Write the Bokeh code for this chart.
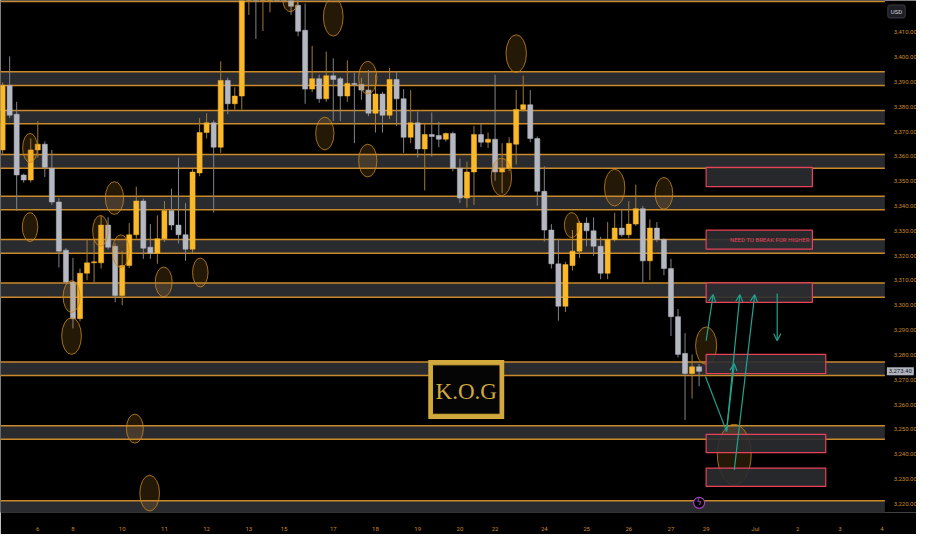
#! /usr/bin/python3

import bokeh.plotting as bkh
from bokeh.models import ColumnDataSource, Range1d, FixedTicker, NumeralTickFormatter, Label, Arrow, OpenHead, LinearAxis
from bokeh.core.properties import value
from bokeh.embed import file_html
from bokeh.resources import INLINE

# XAUUSD 4H candles (6 Jun -> 27 Jun)
opens = [3362.6, 3388.6, 3377.0, 3352.5, 3350.5, 3362.6, 3364.9, 3355.2, 3341.6, 3322.2,
	3309.4, 3294.6, 3312.9, 3317.1, 3317.1, 3332.3, 3323.8, 3303.9, 3316.0, 3328.4,
	3342.0, 3323.4, 3321.0, 3326.8, 3338.1, 3332.3, 3328.4, 3322.6, 3353.3, 3369.6,
	3373.5, 3363.7, 3390.6, 3381.2, 3384.3, 3432.0, 3438.0, 3430.0, 3434.0, 3440.0,
	3444.0, 3424.7, 3420.9, 3410.8, 3387.1, 3391.3, 3383.2, 3392.5, 3391.3, 3384.3,
	3389.4, 3389.0, 3386.7, 3377.4, 3385.1, 3376.6, 3391.0, 3383.2, 3367.7, 3373.5,
	3363.0, 3368.8, 3368.4, 3366.9, 3369.2, 3355.2, 3343.2, 3353.7, 3368.8, 3365.7,
	3366.9, 3353.7, 3355.2, 3364.9, 3378.9, 3380.8, 3367.2, 3345.9, 3330.3, 3316.7,
	3299.6, 3316.0, 3321.8, 3333.1, 3330.0, 3323.8, 3312.9, 3326.5, 3331.1, 3328.4,
	3332.7, 3338.9, 3317.9, 3331.1, 3326.5, 3314.8, 3295.4, 3280.6, 3272.5, 3275.2]
highs = [3389.8, 3400.3, 3382.0, 3353.0, 3367.2, 3374.2, 3366.0, 3362.6, 3343.2, 3323.0,
	3319.1, 3314.8, 3326.8, 3326.8, 3336.2, 3335.4, 3325.0, 3321.8, 3333.1, 3347.8,
	3343.0, 3332.7, 3336.2, 3342.0, 3347.0, 3359.5, 3341.2, 3354.8, 3375.4, 3377.4,
	3374.5, 3398.3, 3391.7, 3387.8, 3440.0, 3446.0, 3444.0, 3440.0, 3446.0, 3448.0,
	3451.0, 3440.0, 3424.0, 3421.6, 3404.5, 3392.9, 3402.2, 3399.5, 3392.0, 3398.7,
	3393.7, 3391.7, 3394.8, 3393.0, 3386.0, 3395.6, 3394.4, 3387.1, 3386.7, 3378.1,
	3373.1, 3377.7, 3373.9, 3369.6, 3370.0, 3359.1, 3357.9, 3372.3, 3373.1, 3369.6,
	3392.9, 3365.3, 3367.7, 3386.7, 3392.5, 3386.7, 3368.0, 3356.0, 3332.7, 3326.8,
	3317.5, 3330.3, 3334.0, 3335.4, 3335.4, 3327.6, 3333.5, 3337.3, 3338.5, 3342.0,
	3348.6, 3340.0, 3334.6, 3333.5, 3327.0, 3318.7, 3298.5, 3288.8, 3280.2, 3276.4]
lows = [3360.6, 3375.4, 3338.1, 3349.4, 3349.5, 3359.5, 3351.7, 3340.4, 3315.2, 3308.5,
	3290.7, 3293.5, 3310.1, 3309.0, 3314.8, 3322.5, 3301.2, 3300.0, 3315.0, 3326.8,
	3318.7, 3318.7, 3316.7, 3325.5, 3330.3, 3324.9, 3317.9, 3321.0, 3352.0, 3367.2,
	3337.3, 3361.4, 3377.0, 3378.9, 3378.9, 3417.0, 3407.3, 3410.5, 3418.0, 3426.0,
	3424.0, 3417.0, 3408.4, 3381.2, 3385.9, 3381.6, 3382.0, 3374.2, 3374.2, 3382.0,
	3365.3, 3382.8, 3376.2, 3369.6, 3369.6, 3375.0, 3372.3, 3361.4, 3365.3, 3359.5,
	3346.3, 3359.9, 3363.7, 3366.0, 3354.0, 3341.2, 3339.3, 3340.4, 3363.7, 3363.4,
	3350.2, 3345.1, 3354.0, 3356.8, 3378.0, 3365.7, 3340.1, 3325.7, 3314.8, 3293.8,
	3297.3, 3314.0, 3319.1, 3323.8, 3319.9, 3310.5, 3310.5, 3325.7, 3327.6, 3327.0,
	3332.0, 3309.0, 3310.1, 3325.5, 3312.1, 3287.6, 3279.0, 3253.8, 3262.4, 3267.4]
closes = [3388.6, 3376.6, 3352.5, 3350.5, 3362.6, 3364.9, 3355.6, 3341.6, 3321.8, 3309.4,
	3294.6, 3312.9, 3317.1, 3317.5, 3332.3, 3323.4, 3303.9, 3316.0, 3328.4, 3342.0,
	3323.0, 3321.0, 3326.8, 3338.1, 3332.3, 3328.4, 3322.6, 3353.7, 3369.6, 3373.5,
	3363.7, 3390.6, 3381.2, 3384.3, 3432.0, 3438.0, 3430.0, 3434.0, 3440.0, 3432.0,
	3426.0, 3420.5, 3410.4, 3387.1, 3391.3, 3383.2, 3392.5, 3391.0, 3384.3, 3389.4,
	3389.0, 3386.7, 3377.4, 3385.1, 3376.6, 3391.0, 3383.2, 3367.7, 3373.5, 3363.0,
	3368.8, 3368.0, 3366.9, 3369.2, 3355.2, 3343.2, 3353.7, 3368.8, 3365.7, 3366.9,
	3353.7, 3355.2, 3365.3, 3378.9, 3380.8, 3367.2, 3345.9, 3330.3, 3316.7, 3299.6,
	3316.4, 3321.8, 3333.1, 3330.0, 3323.8, 3312.9, 3326.5, 3331.1, 3328.4, 3332.7,
	3338.9, 3317.9, 3331.1, 3326.5, 3314.8, 3295.4, 3280.2, 3272.5, 3275.2, 3273.4]

# time axis: candle index of the first bar of each labelled day
day_ticks = [5, 10, 17, 23, 29, 35, 40, 47, 53, 59, 65, 70, 77, 83, 89, 95, 100, 107, 113, 119, 125]
day_labels = ['6', '8', '10', '11', '12', '13', '15', '17', '18', '19', '20', '22', '24', '25', '26', '27', '29', 'Jul', '2', '3', '4']

# price scale
price_ticks = [3220, 3230, 3240, 3250, 3260, 3270, 3280, 3290, 3300, 3310,
	3320, 3330, 3340, 3350, 3360, 3370, 3380, 3390, 3400, 3410]
last_price = 3273.40

# horizontal zones (price)
zone_low = [3215.7, 3246.0, 3271.7, 3303.2, 3321.0, 3338.5, 3355.2, 3373.1, 3388.6, 3422.4]
zone_high = [3221.2, 3251.5, 3277.1, 3309.0, 3326.5, 3343.9, 3360.7, 3378.5, 3394.1, 3428.0]

# highlighted swing points
circle_x = [3.9, 3.9, 15.9, 13.9, 16.8, 22.9, 9.8, 9.8, 28.1, 18.8, 20.9, 40.9,
	47.0, 45.8, 51.9, 51.9, 73.0, 70.9, 80.9, 87.0, 94.0, 100.0, 104.0]
circle_y = [3363.4, 3331.5, 3343.2, 3330.0, 3321.8, 3309.4, 3303.5, 3287.6, 3313.2, 3250.3, 3224.3, 3422.8,
	3416.2, 3369.2, 3391.7, 3358.3, 3401.4, 3351.7, 3332.3, 3347.4, 3345.1, 3283.7, 3239.8]
circle_w = [2.1, 2.2, 2.6, 2.2, 2.4, 2.4, 2.4, 2.8, 2.2, 2.4, 2.8, 2.1,
	2.8, 2.6, 2.6, 2.6, 2.9, 2.9, 2.1, 2.9, 2.5, 3.0, 4.8]
circle_h = [11.7, 11.7, 13.2, 12.4, 13.2, 12.0, 12.8, 14.8, 11.7, 11.7, 14.4, 9.0,
	15.5, 13.2, 13.2, 13.2, 15.2, 15.2, 10.1, 14.8, 12.8, 15.2, 24.5]

# projected boxes
box_left = [100.0, 100.0, 100.0, 100.0, 100.0, 100.0]
box_right = [115.1, 115.1, 115.1, 117.0, 117.0, 117.0]
box_bottom = [3347.8, 3322.6, 3301.2, 3272.5, 3240.6, 3227.0]
box_top = [3355.6, 3330.3, 3309.0, 3280.2, 3248.0, 3234.4]

# projected path (x0, y0, x1, y1, has head)
path_x0 = [100.0, 99.9, 102.9, 102.9, 104.0, 110.1]
path_y0 = [3285.7, 3271.3, 3249.2, 3249.2, 3233.7, 3304.7]
path_x1 = [101.0, 102.9, 104.0, 104.8, 106.9, 110.1]
path_y1 = [3304.3, 3249.2, 3276.5, 3304.3, 3304.3, 3285.7]
path_head = [True, False, True, True, True, True]

bull = '#fbb829'
bear = '#b5b8c0'
zone_line = '#c98a2c'
teal = '#22a38f'
red = '#e8415a'
gold = '#d2a93c'

X_START = -0.3
X_END = 125.4     # right edge of the candle pane, the price scale sits past it

up = [c >= o for o, c in zip(opens, closes)]
source = ColumnDataSource(dict(
	x=list(range(len(opens))),
	top=[max(o, c) for o, c in zip(opens, closes)],
	bottom=[min(o, c) for o, c in zip(opens, closes)],
	high=highs, low=lows,
	color=[bull if u else bear for u in up],
	wick=['#a07a36' if u else '#80838b' for u in up]))

p = bkh.figure(width=916, height=534,
	x_range=Range1d(X_START, 129.9), y_range=Range1d(3216.5, 3422.8),
	y_axis_location=None, output_backend='svg', toolbar_location=None,
	background_fill_color='#000000', border_fill_color='#000000', min_border=0)
p.outline_line_color = None
p.grid.visible = False

# zones
n = len(zone_low)
p.quad(left=[X_START] * n, right=[X_END] * n, bottom=zone_low, top=zone_high, fill_color='#2a2b2f', line_color=None)
p.segment(x0=[X_START] * 2 * n, x1=[X_END] * 2 * n, y0=zone_low + zone_high, y1=zone_low + zone_high,
	line_color=zone_line, line_width=1.5)

# candles
p.segment(x0='x', y0='low', x1='x', y1='high', color='wick', line_width=1, source=source)
p.vbar(x='x', top='top', bottom='bottom', width=0.72, fill_color='color', line_color='color', line_width=0.5, source=source)

# swing circles
p.ellipse(x=circle_x, y=circle_y, width=circle_w, height=circle_h,
	fill_color='#c8871f', fill_alpha=0.18, line_color='#c8871f', line_alpha=0.8, line_width=1)

# boxes
p.quad(left=box_left, right=box_right, bottom=box_bottom, top=box_top,
	fill_color='#2b2c30', fill_alpha=0.9, line_color=red, line_width=1.2)
p.text(x=[114.7], y=[3326.6], text=['NEED TO BREAK FOR HIGHER'], text_color=red,
	text_font=value('Roboto'), text_font_size='6px', text_align='right', text_baseline='middle')

for x0, y0, x1, y1, head in zip(path_x0, path_y0, path_x1, path_y1, path_head):
	end = OpenHead(size=7, line_color=teal, line_width=1.2) if head else None
	p.add_layout(Arrow(end=end, x_start=x0, y_start=y0, x_end=x1, y_end=y1,
		line_color=teal, line_width=1.2))

# logo
p.quad(left=[60.5], right=[71.3], bottom=[3254.2], top=[3277.9], fill_color=gold, line_color=None)
p.quad(left=[61.1], right=[70.7], bottom=[3256.1], top=[3276.0], fill_color='#050505', line_color=gold, line_width=1)
p.text(x=[65.9], y=[3265.4], text=['K.O.G'], text_color=gold, text_font=value('Liberation Serif'),
	text_font_size='23px', text_align='center', text_baseline='middle')

# event marker
p.scatter(x=[99.0], y=[3220.4], size=11, marker='circle', fill_color='#000000', line_color='#a040c0', line_width=1.2)
p.text(x=[99.0], y=[3220.4], text=['ϟ'], text_color='#c060e0', text_font=value('DejaVu Sans'),
	text_font_size='8px', text_align='center', text_baseline='middle')

# axes: the price scale is drawn inside the frame, right of the candle pane
yaxis = LinearAxis(fixed_location=X_END, ticker=FixedTicker(ticks=price_ticks),
	formatter=NumeralTickFormatter(format='0,0.00'))
p.add_layout(yaxis, 'right')
p.axis.axis_line_color = None
p.axis.major_tick_line_color = None
p.axis.minor_tick_line_color = None
p.axis.major_label_text_color = zone_line
p.axis.major_label_text_font = 'Roboto'
p.axis.major_label_text_font_size = '6px'
yaxis.major_label_standoff = 3
p.xaxis.ticker = FixedTicker(ticks=day_ticks)
p.xaxis.major_label_overrides = dict(zip(day_ticks, day_labels))
p.xaxis.major_label_standoff = 6

p.add_layout(Label(x=X_END, y=3421.0, x_offset=3, text='USD', text_baseline='top',
	text_color='#d1d4dc', text_font='Roboto', text_font_size='6px', level='overlay',
	padding=3, border_radius=2,
	background_fill_color='#1e1f24', border_line_color='#3a3b40'))
p.add_layout(Label(x=X_END, y=last_price, x_offset=2, text='3,273.40', text_baseline='middle',
	text_color='#131722', text_font='Roboto', text_font_size='6px', level='overlay',
	padding=2, background_fill_color='#b2b5be'))

open("out.html", "w").write(file_html(p, INLINE))
